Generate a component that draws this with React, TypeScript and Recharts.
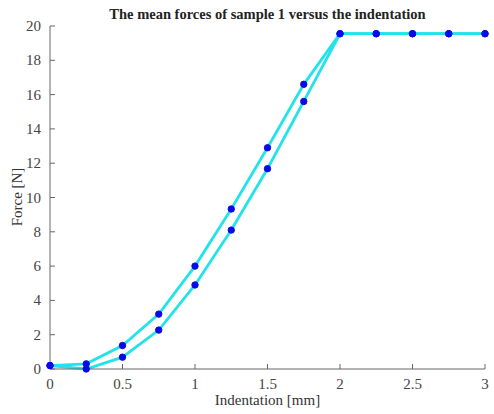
import { LineChart, Line, XAxis, YAxis } from 'recharts'

const indentation = [0, 0.25, 0.5, 0.75, 1, 1.25, 1.5, 1.75, 2, 2.25, 2.5, 2.75, 3]
const forceUpper = [0.2, 0.3, 1.37, 3.2, 6.0, 9.33, 12.9, 16.6, 19.55, 19.55, 19.55, 19.55, 19.55]
const forceLower = [0.2, 0.0, 0.69, 2.27, 4.9, 8.1, 11.68, 15.6, 19.55, 19.55, 19.55, 19.55, 19.55]
const xTicks = [0, 0.5, 1, 1.5, 2, 2.5, 3]
const yTicks = [0, 2, 4, 6, 8, 10, 12, 14, 16, 18, 20]

const data = indentation.map((x, i) => ({ x, upper: forceUpper[i], lower: forceLower[i] }))

const AXIS = '#666'
const FONT = '"Liberation Serif", "DejaVu Serif", serif'
const dotStyle = { r: 3.2, fill: '#0a0ae6', stroke: '#0a0ae6', strokeWidth: 1 }

function XTick(props: any) {
  const { x, y, payload } = props
  return (
    <text x={x} y={y} dy={11} textAnchor="middle" fill="#444" fontSize={15} fontFamily={FONT}>
      {String(payload.value)}
    </text>
  )
}

function YTick(props: any) {
  const { x, y, payload } = props
  return (
    <text x={x} y={y} dy={5} dx={-1} textAnchor="end" fill="#444" fontSize={15} fontFamily={FONT}>
      {String(payload.value)}
    </text>
  )
}

export default function App() {
  return (
    <div style={{ position: 'absolute', left: 0, top: 0, width: 494, height: 414, background: '#fff', fontFamily: FONT }}>
      <div
        style={{
          position: 'absolute',
          left: 50,
          width: 435,
          top: 6,
          textAlign: 'center',
          fontWeight: 'bold',
          fontSize: 14.5,
          color: '#222',
        }}
      >
        The mean forces of sample 1 versus the indentation
      </div>
      <LineChart width={494} height={414} data={data} margin={{ top: 26, right: 9, bottom: 0, left: 0 }}>
        <XAxis
          xAxisId="bottom"
          dataKey="x"
          type="number"
          domain={[0, 3]}
          ticks={xTicks}
          tickSize={-5}
          tickMargin={14}
          height={45}
          stroke={AXIS}
          tick={<XTick />}
        />
        <XAxis
          xAxisId="top"
          orientation="top"
          dataKey="x"
          type="number"
          domain={[0, 3]}
          ticks={xTicks}
          tickSize={-5}
          height={0}
          stroke={AXIS}
          tick={false}
        />
        <YAxis
          yAxisId="left"
          type="number"
          domain={[0, 20]}
          ticks={yTicks}
          tickSize={-5}
          tickMargin={13}
          width={50}
          stroke={AXIS}
          tick={<YTick />}
        />
        <YAxis
          yAxisId="right"
          orientation="right"
          type="number"
          domain={[0, 20]}
          ticks={yTicks}
          tickSize={-5}
          width={0}
          stroke={AXIS}
          tick={false}
        />
        <Line
          xAxisId="bottom"
          yAxisId="left"
          dataKey="upper"
          type="linear"
          stroke="#22e3ea"
          strokeWidth={2.8}
          dot={dotStyle}
          isAnimationActive={false}
        />
        <Line
          xAxisId="bottom"
          yAxisId="left"
          dataKey="lower"
          type="linear"
          stroke="#22e3ea"
          strokeWidth={2.8}
          dot={dotStyle}
          isAnimationActive={false}
        />
      </LineChart>
      <div
        style={{
          position: 'absolute',
          left: 50,
          width: 435,
          top: 392,
          textAlign: 'center',
          fontSize: 15,
          color: '#333',
        }}
      >
        Indentation [mm]
      </div>
      <div
        style={{
          position: 'absolute',
          left: 17,
          top: 197,
          transform: 'translate(-50%, -50%) rotate(-90deg)',
          fontSize: 15,
          color: '#333',
          whiteSpace: 'nowrap',
        }}
      >
        Force [N]
      </div>
    </div>
  )
}
